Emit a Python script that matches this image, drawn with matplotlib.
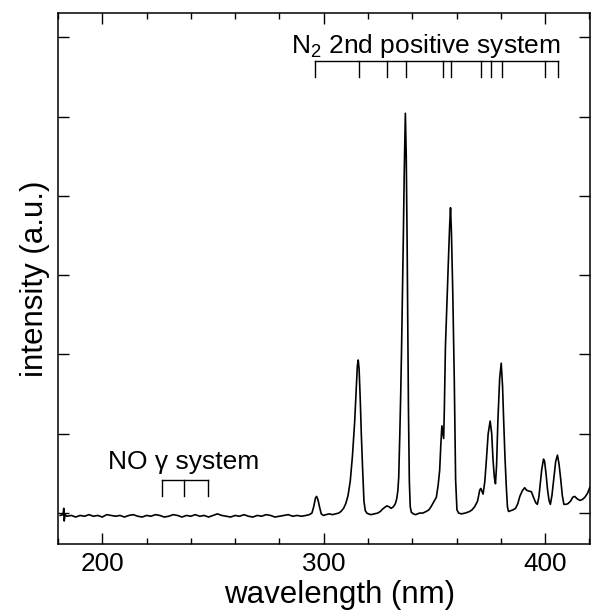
import numpy as np
import matplotlib
matplotlib.use("Agg")
import matplotlib.pyplot as plt

plt.rcParams["font.family"] = ["Liberation Sans", "DejaVu Sans"]
plt.rcParams["mathtext.fontset"] = "custom"
plt.rcParams["mathtext.rm"] = "Liberation Sans"

# emission spectrum: wavelength (nm), intensity (a.u.)
wavelength = [
    181.0, 182.3, 182.6, 182.8, 183.2, 184.0, 186.0, 188.0, 190.0, 192.0,
    194.0, 196.0, 198.0, 200.0, 202.0, 204.0, 206.0, 208.0, 210.0, 212.0,
    214.0, 216.0, 218.0, 220.0, 222.0, 224.0, 226.0, 228.0, 230.0, 232.0,
    234.0, 236.0, 238.0, 240.0, 242.0, 244.0, 246.0, 248.0, 250.0, 252.0,
    254.0, 256.0, 258.0, 260.0, 262.0, 264.0, 266.0, 268.0, 270.0, 272.0,
    274.0, 276.0, 278.0, 280.0, 282.0, 284.0, 286.0, 288.0, 290.0, 292.0,
    293.5, 294.7, 295.5, 296.3, 296.8, 297.4, 298.2, 298.9, 299.9, 301.0,
    302.5, 304.0, 305.5, 306.8, 307.8, 309.0, 310.0, 311.0, 312.0, 313.0,
    314.0, 314.7, 315.2, 315.6, 316.0, 316.5, 317.0, 317.6, 318.2, 318.8,
    319.5, 320.2, 321.4, 322.8, 324.4, 325.6, 326.6, 327.5, 328.5, 329.5,
    330.5, 331.5, 332.4, 333.0, 333.5, 333.9, 334.4, 334.8, 335.2, 335.6,
    336.0, 336.4, 336.9, 337.3, 337.7, 338.0, 338.3, 338.7, 339.1, 339.6,
    340.5, 341.5, 343.3, 344.8, 346.3, 347.5, 348.5, 349.3, 350.9, 351.7,
    352.4, 352.9, 353.4, 353.8, 354.2, 354.5, 355.0, 355.6, 356.3, 356.9,
    357.3, 357.7, 358.3, 359.0, 359.6, 360.2, 361.0, 362.2, 364.0, 365.9,
    367.0, 368.2, 369.5, 370.5, 371.0, 372.0, 372.8, 373.5, 374.3, 375.2,
    375.9, 376.5, 377.1, 377.6, 378.1, 378.7, 379.5, 380.2, 380.8, 381.3,
    381.9, 382.5, 383.0, 383.5, 385.5, 386.7, 387.7, 388.6, 389.7, 390.8,
    391.6, 392.3, 393.8, 394.9, 395.8, 396.5, 397.2, 397.8, 398.5, 399.3,
    399.8, 400.5, 401.1, 401.8, 402.4, 403.1, 403.9, 404.8, 405.6, 406.3,
    407.1, 407.8, 408.5, 409.5, 410.4, 411.5, 412.5, 413.4, 414.5, 415.7,
    416.8, 418.0, 419.2, 420.3,
]
intensity = [
    -0.03, -0.02, 0.06, -0.10, -0.02, -0.04, -0.03, -0.05, -0.03, -0.04,
    -0.02, -0.04, -0.03, -0.05, -0.02, -0.03, -0.04, -0.03, -0.05, -0.03,
    -0.02, -0.04, -0.05, -0.03, -0.04, -0.02, -0.03, -0.05, -0.04, -0.02,
    -0.03, -0.05, -0.03, -0.04, -0.02, -0.04, -0.03, -0.05, -0.03, -0.01,
    -0.03, -0.04, -0.05, -0.03, -0.04, -0.02, -0.04, -0.05, -0.03, -0.04,
    -0.02, -0.03, -0.05, -0.04, -0.03, -0.02, -0.04, -0.03, -0.04, -0.03,
    -0.02, 0.00, 0.08, 0.19, 0.21, 0.17, 0.07, -0.01, -0.03, -0.02,
    -0.01, -0.02, -0.01, 0.00, 0.02, 0.06, 0.12, 0.22, 0.40, 0.72,
    1.15, 1.55, 1.85, 1.93, 1.82, 1.45, 1.00, 0.55, 0.15, 0.03,
    0.00, -0.01, -0.02, -0.01, 0.00, 0.02, 0.05, 0.07, 0.09, 0.08,
    0.06, 0.08, 0.12, 0.18, 0.28, 0.45, 1.00, 1.50, 2.10, 2.80,
    3.50, 4.30, 5.04, 4.50, 3.40, 2.30, 1.30, 0.40, 0.08, 0.01,
    -0.01, -0.02, 0.00, 0.00, 0.02, 0.04, 0.08, 0.12, 0.20, 0.35,
    0.54, 0.85, 1.10, 1.02, 0.94, 1.30, 2.10, 2.60, 3.15, 3.62,
    3.85, 3.55, 2.80, 1.68, 0.42, 0.04, 0.00, -0.01, 0.00, 0.02,
    0.04, 0.08, 0.15, 0.29, 0.31, 0.24, 0.40, 0.67, 1.00, 1.16,
    1.00, 0.67, 0.45, 0.37, 0.60, 1.17, 1.70, 1.89, 1.60, 1.17,
    0.70, 0.33, 0.08, 0.02, 0.04, 0.06, 0.12, 0.21, 0.28, 0.32,
    0.29, 0.28, 0.27, 0.19, 0.13, 0.11, 0.20, 0.36, 0.55, 0.68,
    0.65, 0.48, 0.30, 0.16, 0.11, 0.22, 0.42, 0.65, 0.73, 0.62,
    0.42, 0.22, 0.11, 0.11, 0.12, 0.15, 0.20, 0.21, 0.18, 0.16,
    0.17, 0.20, 0.25, 0.33,
]

# band heads marked above the spectrum
n2_lines = [296.2, 315.9, 328.5, 337.1, 353.7, 357.7, 371.1, 375.5, 380.5, 399.8, 405.9]
no_lines = [226.9, 237.0, 247.9]


def bracket(ax, lines, y_top, y_bot):
    ax.plot([lines[0], lines[-1]], [y_top, y_top], color="black", lw=1.0)
    for x in lines:
        ax.plot([x, x], [y_top, y_bot], color="black", lw=1.0)


fig = plt.figure(figsize=(5.91, 6.11), dpi=100)
ax = fig.add_axes([58 / 591, 1 - 544 / 611, 532 / 591, 531 / 611])

ax.plot(wavelength, intensity, color="black", lw=1.2)

bracket(ax, n2_lines, 5.70, 5.50)
bracket(ax, no_lines, 0.42, 0.21)
ax.text(285.2, 5.80, r"N$_\mathregular{2}$ 2nd positive system", fontsize=19,
        ha="left", va="baseline")
ax.text(202.6, 0.56, "NO γ system", fontsize=19, ha="left", va="baseline")

ax.set_xlim(180, 420.3)
ax.set_ylim(-0.39, 6.305)
ax.set_xticks([200, 300, 400])
ax.set_xticks(np.arange(180, 421, 20), minor=True)
ax.set_yticks(range(7))
ax.set_yticklabels([])
ax.tick_params(which="both", direction="in", top=True, right=True, width=1.0)
ax.tick_params(which="major", length=8, labelsize=18.8, pad=6)
ax.tick_params(which="minor", length=4)
for s in ax.spines.values():
    s.set_linewidth(1.1)

ax.set_xlabel("wavelength (nm)", fontsize=22.5, va="baseline")
ax.xaxis.set_label_coords(0.530, -0.111)
ax.set_ylabel("intensity (a.u.)", fontsize=22.5, labelpad=0)

fig.savefig("out.png", dpi=100)
